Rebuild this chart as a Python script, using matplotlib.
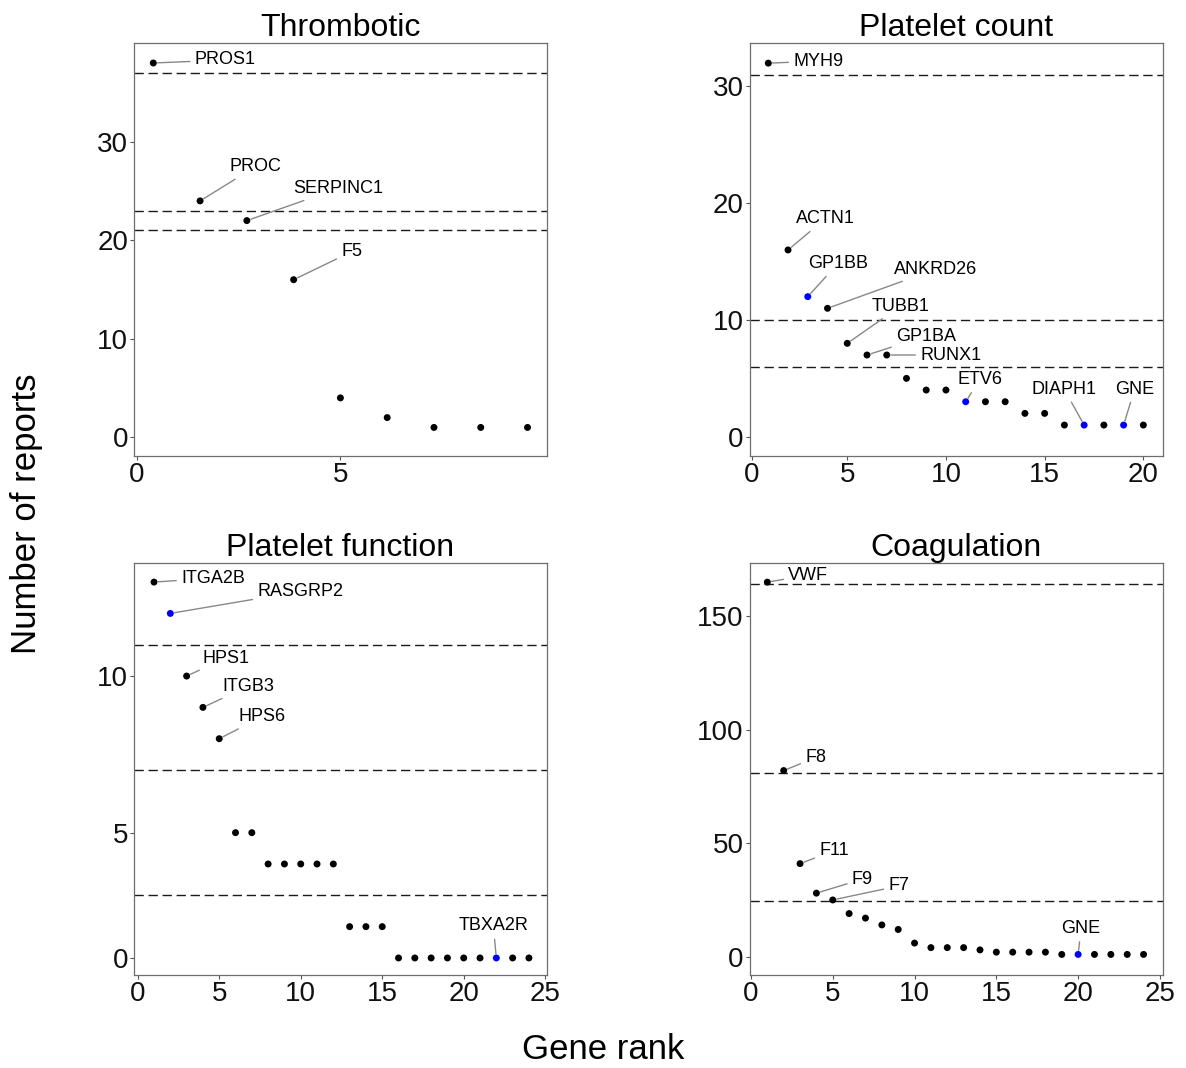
import matplotlib
matplotlib.use("Agg")
import matplotlib.pyplot as plt

plt.rcParams["font.family"] = ["Liberation Sans", "DejaVu Sans"]

# ---- data ----
thr_title = "Thrombotic"
thr_reports = [38, 24, 22, 16, 4, 2, 1, 1, 1]
thr_labels = {1: "PROS1", 2: "PROC", 3: "SERPINC1", 4: "F5"}
thr_blue = []
thr_cutoffs = [37, 23, 21]

plc_title = "Platelet count"
plc_reports = [32, 16, 12, 11, 8, 7, 7, 5, 4, 4, 3, 3, 3, 2, 2, 1, 1, 1, 1, 1]
plc_labels = {1: "MYH9", 2: "ACTN1", 3: "GP1BB", 4: "ANKRD26", 5: "TUBB1",
              6: "GP1BA", 7: "RUNX1", 11: "ETV6", 17: "DIAPH1", 19: "GNE"}
plc_blue = [3, 11, 17, 19]
plc_cutoffs = [31, 10, 6]

plf_title = "Platelet function"
plf_reports = [13, 12, 10, 9, 8, 5, 5, 4, 4, 4, 4, 4, 2, 2, 2,
               1, 1, 1, 1, 1, 1, 1, 1, 1]
plf_labels = {1: "ITGA2B", 2: "RASGRP2", 3: "HPS1", 4: "ITGB3", 5: "HPS6", 22: "TBXA2R"}
plf_blue = [2, 22]
plf_cutoffs = [11, 7, 3]

coa_title = "Coagulation"
coa_reports = [165, 82, 41, 28, 25, 19, 17, 14, 12, 6, 4, 4, 4, 3, 2, 2, 2, 2,
               1, 1, 1, 1, 1, 1]
coa_labels = {1: "VWF", 2: "F8", 3: "F11", 4: "F9", 5: "F7", 20: "GNE"}
coa_blue = [20]
coa_cutoffs = [164, 81, 24.4]

# label offsets (pixels, right / up) used to place the repelled labels
thr_off = {1: (72, 3), 2: (55, 34), 3: (91, 32), 4: (58, 28)}
plc_off = {1: (50, 2), 2: (37, 31), 3: (30, 33), 4: (108, 39), 5: (53, 37),
           6: (59, 19), 7: (64, 0), 11: (14, 22), 17: (-20, 36), 19: (11, 36)}
plf_off = {1: (59, 4), 2: (130, 22), 3: (39, 18), 4: (45, 21), 5: (43, 22), 22: (-3, 32)}
coa_off = {1: (41, 7), 2: (32, 13), 3: (34, 13), 4: (46, 14), 5: (66, 14), 20: (3, 26)}

W, H = 1186, 1068
fig = plt.figure(figsize=(W / 100, H / 100), dpi=100)


def panel(box, title, reports, labels, blue, cutoffs, offsets,
          xlim, ylim, xticks, xticklabels, yticks, yticklabels):
    left, top, right, bottom = box
    ax = fig.add_axes([left / W, 1 - bottom / H, (right - left) / W, (bottom - top) / H])
    ranks = list(range(1, len(reports) + 1))
    for c in cutoffs:
        ax.axhline(c, color="#1a1a1a", lw=1.0, linestyle=(0, (6.7, 3.4)), zorder=1)
    colors = ["#0000ff" if r in blue else "black" for r in ranks]
    ax.scatter(ranks, reports, s=25, c=colors, edgecolors="none", zorder=3)
    for r, name in labels.items():
        dx, dy = offsets[r]
        ax.annotate(name, xy=(r, reports[r - 1]), xytext=(dx, dy),
                    textcoords="offset pixels", ha="center", va="center",
                    fontsize=13, color="black",
                    arrowprops=dict(arrowstyle="-", color="#888888", lw=1.0,
                                    shrinkA=1.5, shrinkB=3))
    ax.set_xlim(*xlim)
    ax.set_ylim(*ylim)
    ax.set_xticks(xticks)
    ax.set_xticklabels(xticklabels)
    ax.set_yticks(yticks)
    ax.set_yticklabels(yticklabels)
    ax.set_title(title, fontsize=23, pad=2.3)
    for s in ax.spines.values():
        s.set_color("#6e6e6e")
        s.set_linewidth(0.9)
    ax.tick_params(length=3, width=0.8, color="#555555", pad=1.5,
                   labelsize=20, labelcolor="#111111")
    return ax


panel((134.3, 43.3, 546.7, 456), thr_title, thr_reports, thr_labels, thr_blue,
      thr_cutoffs, thr_off, (0.594, 9.41), (-1.9, 40.0),
      [0.645, 5], ["0", "5"], [0, 10, 20, 30], ["0", "10", "20", "30"])

panel((750, 43.3, 1162.7, 456), plc_title, plc_reports, plc_labels, plc_blue,
      plc_cutoffs, plc_off, (0.073, 20.98), (-1.65, 33.7),
      [0.17, 5, 10, 15, 20], ["0", "5", "10", "15", "20"],
      [0, 10, 20, 30], ["0", "10", "20", "30"])

panel((134.3, 563.3, 546.7, 975), plf_title, plf_reports, plf_labels, plf_blue,
      plf_cutoffs, plf_off, (-0.21, 25.09), (0.456, 13.6),
      [0, 5, 10, 15, 20, 25], ["0", "5", "10", "15", "20", "25"],
      [1, 5, 10], ["0", "5", "10"])

panel((750, 563.3, 1162.7, 975), coa_title, coa_reports, coa_labels, coa_blue,
      coa_cutoffs, coa_off, (-0.06, 25.17), (-8.06, 173.3),
      [0, 5, 10, 15, 20, 25], ["0", "5", "10", "15", "20", "25"],
      [0, 50, 100, 150], ["0", "50", "100", "150"])

fig.text(26.5 / W, 1 - 513.3 / H, "Number of reports", rotation=90,
         ha="center", va="center", fontsize=25)
fig.text(603 / W, 1 - 1049.5 / H, "Gene rank", ha="center", va="center", fontsize=25)

fig.savefig("out.png", dpi=100)
